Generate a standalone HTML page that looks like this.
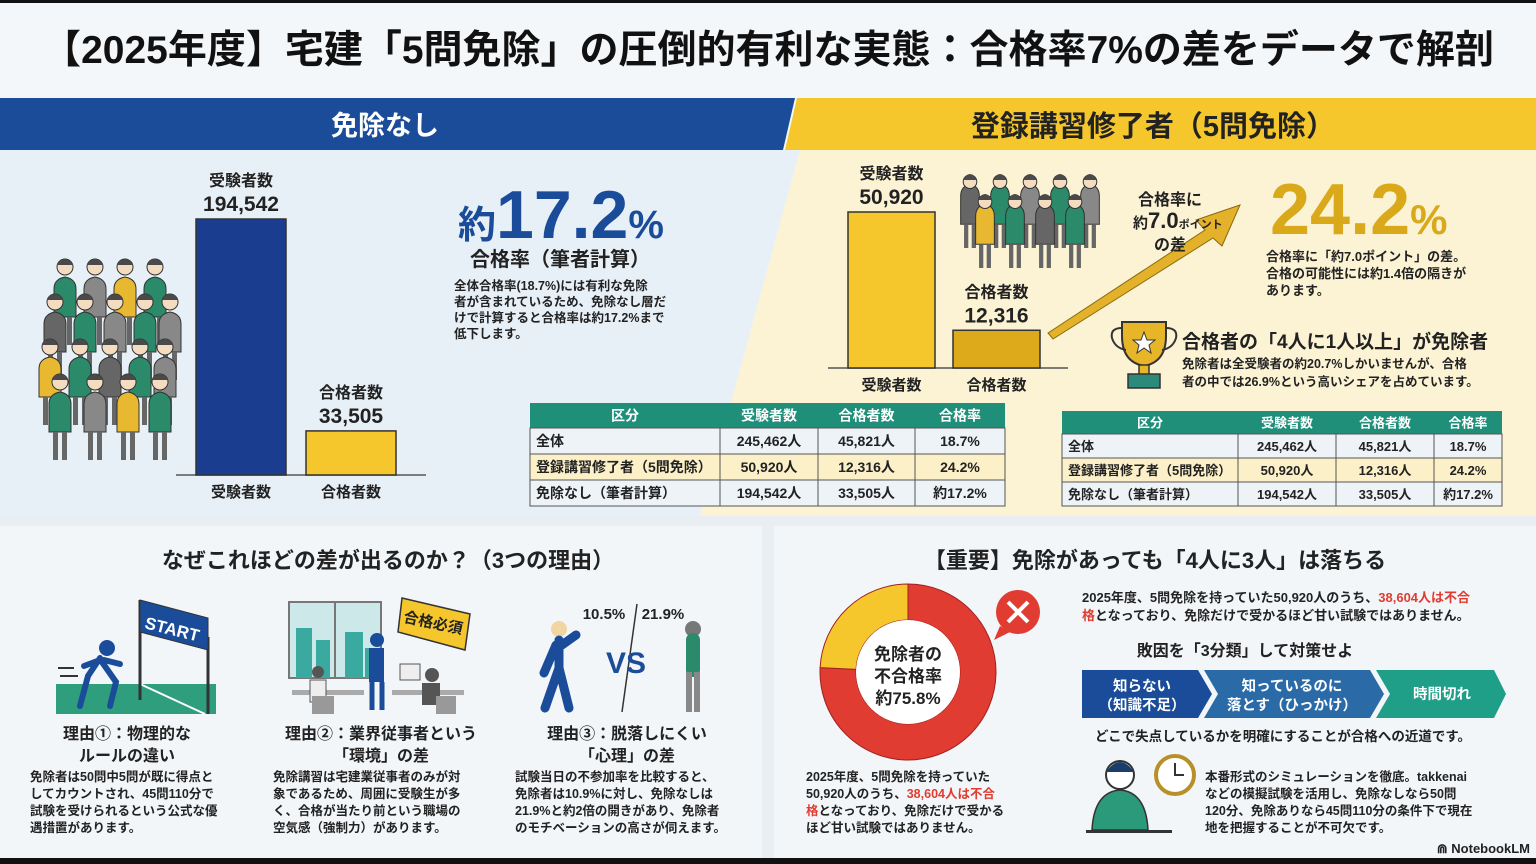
<!DOCTYPE html>
<html><head><meta charset="utf-8">
<style>
html,body{margin:0;padding:0;background:#fff;}
svg{display:block;}
text{font-family:"Liberation Sans","Noto Sans CJK JP",sans-serif;font-weight:bold;}
</style></head>
<body>
<svg id="root" width="1536" height="864" viewBox="0 0 1536 864" xmlns="http://www.w3.org/2000/svg">
<rect x="0" y="0" width="1536" height="864" fill="#f4f7fa"/>
<rect x="0" y="0" width="1536" height="3" fill="#111"/>
<text x="768" y="63" font-size="39" text-anchor="middle" fill="#111">【2025年度】宅建「5問免除」の圧倒的有利な実態：合格率7%の差をデータで解剖</text>

<!-- top panels -->
<polygon points="0,150 800,150 700,516 0,516" fill="#e8f0f7"/>
<polygon points="800,150 1536,150 1536,516 700,516" fill="#fbf3d4"/>
<polygon points="0,98 795,98 783,150 0,150" fill="#1a4c9a"/>
<text x="385" y="135" font-size="27" text-anchor="middle" fill="#fff">免除なし</text>
<polygon points="797,98 1536,98 1536,150 785,150" fill="#f5c72c"/>
<text x="1153" y="136" font-size="29" text-anchor="middle" fill="#222">登録講習修了者（5問免除）</text>

<g id="crowdL"></g>
<g id="crowdR"></g>
<g id="barsL"></g>
<g id="barsR"></g>

<text x="458" y="238" fill="#1a4c9a"><tspan font-size="38">約</tspan><tspan font-size="68">17.2</tspan><tspan font-size="40">%</tspan></text>
<text x="560" y="266" font-size="20" text-anchor="middle" fill="#222">合格率（筆者計算）</text>
<g font-size="12.5" fill="#222">
<text x="454" y="290">全体合格率(18.7%)には有利な免除</text>
<text x="454" y="306">者が含まれているため、免除なし層だ</text>
<text x="454" y="322">けで計算すると合格率は約17.2%まで</text>
<text x="454" y="338">低下します。</text>
</g>

<!-- arrow -->
<polygon points="1048,333 1205,230 1196,220 1240,205 1222,246 1213,238 1053,339" fill="#e3b22a" stroke="#8a6a10" stroke-width="1"/>
<g fill="#222">
<text x="1170" y="205" font-size="16" text-anchor="middle">合格率に</text>
<text x="1133" y="228"><tspan font-size="15">約</tspan><tspan font-size="22">7.0</tspan><tspan font-size="11">ポイント</tspan></text>
<text x="1170" y="250" font-size="16" text-anchor="middle">の差</text>
</g>
<text x="1270" y="234" fill="#d9a91a"><tspan font-size="72">24.2</tspan><tspan font-size="42">%</tspan></text>
<g font-size="13" fill="#222">
<text x="1266" y="261">合格率に「約7.0ポイント」の差。</text>
<text x="1266" y="278">合格の可能性には約1.4倍の隔きが</text>
<text x="1266" y="295">あります。</text>
</g>
<g>
<path d="M1122,322 h44 v14 q0,26 -22,30 q-22,-4 -22,-30 z" fill="#e7b628" stroke="#333" stroke-width="2"/>
<path d="M1122,328 q-12,0 -10,10 q3,10 14,12 M1166,328 q12,0 10,10 q-3,10 -14,12" fill="none" stroke="#333" stroke-width="2"/>
<rect x="1139" y="365" width="10" height="10" fill="#e7b628" stroke="#333" stroke-width="1.5"/>
<rect x="1128" y="374" width="32" height="14" fill="#2b8a7a" stroke="#333" stroke-width="1.5"/>
<polygon points="1144,332 1147,340 1155,340 1149,345 1151,353 1144,348 1137,353 1139,345 1133,340 1141,340" fill="#fff" stroke="#333"/>
</g>
<text x="1182" y="348" font-size="19" fill="#222">合格者の「4人に1人以上」が免除者</text>
<g font-size="12.5" fill="#222">
<text x="1182" y="368">免除者は全受験者の約20.7%しかいませんが、合格</text>
<text x="1182" y="386">者の中では26.9%という高いシェアを占めています。</text>
</g>

<g id="tableL"></g>
<g id="tableR"></g>

<!-- bottom panels -->
<rect x="0" y="516" width="1536" height="348" fill="#e9eef3"/>
<rect x="0" y="526" width="762" height="332" fill="#f3f6f9"/>
<rect x="774" y="526" width="762" height="332" fill="#f3f6f9"/>
<rect x="0" y="858" width="1536" height="6" fill="#111"/>
<text x="388" y="568" font-size="22" text-anchor="middle" fill="#222">なぜこれほどの差が出るのか？（3つの理由）</text>

<!-- reason 1 illustration -->
<g>
<rect x="56" y="684" width="160" height="30" fill="#2e9e7c"/>
<line x1="140" y1="684" x2="205" y2="714" stroke="#fff" stroke-width="2"/>
<line x1="140" y1="600" x2="140" y2="700" stroke="#333" stroke-width="3"/>
<line x1="208" y1="637" x2="208" y2="714" stroke="#333" stroke-width="3"/>
<polygon points="140,600 208,618 208,650 140,632" fill="#1a4c9a" stroke="#333"/>
<text x="172" y="635" font-size="17" fill="#fff" text-anchor="middle" transform="rotate(14 172 630)">START</text>
<circle cx="107" cy="648" r="8" fill="#1a4c9a"/>
<path d="M100,658 l-12,18 l-8,30 M102,662 l14,20 l-6,24 M100,660 l-16,6 M104,660 l16,4" stroke="#1a4c9a" stroke-width="6" fill="none" stroke-linecap="round"/>
<line x1="58" y1="668" x2="74" y2="668" stroke="#333" stroke-width="2"/><line x1="60" y1="676" x2="78" y2="676" stroke="#333" stroke-width="2"/>
</g>
<!-- reason 2 illustration -->
<g>
<rect x="289" y="602" width="92" height="76" fill="#cde8e8" stroke="#777" stroke-width="2"/>
<rect x="296" y="628" width="16" height="50" fill="#3aa9a0"/><rect x="316" y="640" width="14" height="38" fill="#3aa9a0"/><rect x="345" y="632" width="18" height="46" fill="#3aa9a0"/><rect x="365" y="648" width="12" height="30" fill="#3aa9a0"/>
<line x1="335" y1="602" x2="335" y2="678" stroke="#777" stroke-width="2"/>
<polygon points="402,598 470,614 465,650 398,632" fill="#f5c72c" stroke="#333" stroke-width="1.5"/>
<text x="433" y="628" font-size="15" fill="#222" text-anchor="middle" transform="rotate(12 433 624)">合格必須</text>
<rect x="292" y="690" width="72" height="5" fill="#aaa"/><rect x="392" y="690" width="72" height="5" fill="#aaa"/>
<circle cx="377" cy="640" r="7" fill="#1a4c9a"/><rect x="369" y="648" width="15" height="34" fill="#1a4c9a"/><path d="M372,682 v28 M382,682 v28" stroke="#1a4c9a" stroke-width="5"/>
<circle cx="318" cy="672" r="6" fill="#555"/><rect x="310" y="680" width="16" height="22" fill="#eee" stroke="#555"/><rect x="312" y="696" width="22" height="18" fill="#999"/>
<circle cx="432" cy="675" r="7" fill="#555"/><rect x="422" y="683" width="18" height="22" fill="#555"/><rect x="436" y="696" width="20" height="18" fill="#999"/>
<rect x="400" y="664" width="20" height="16" fill="#eee" stroke="#555"/>
</g>
<!-- reason 3 illustration -->
<g>
<text x="604" y="619" font-size="15" fill="#222" text-anchor="middle">10.5%</text>
<text x="663" y="619" font-size="15" fill="#222" text-anchor="middle">21.9%</text>
<line x1="637" y1="604" x2="622" y2="712" stroke="#333" stroke-width="1.5"/>
<text x="626" y="673" font-size="30" fill="#1a4c9a" text-anchor="middle">VS</text>
<circle cx="559" cy="629" r="8" fill="#f2d5a0"/>
<path d="M559,640 v30 M559,668 l-14,40 M559,668 l10,40 M556,645 l-12,28 M562,645 l14,-10" stroke="#1a4c9a" stroke-width="9" fill="none" stroke-linecap="round"/>
<circle cx="693" cy="629" r="8" fill="#777"/>
<path d="M693,640 v30" stroke="#2a8a6a" stroke-width="14" stroke-linecap="round"/>
<path d="M689,672 v40 M697,672 v40" stroke="#888" stroke-width="6"/>
</g>
<g fill="#222" text-anchor="middle" font-size="16">
<text x="127" y="739">理由①：物理的な</text><text x="127" y="761">ルールの違い</text>
<text x="381" y="739">理由②：業界従事者という</text><text x="381" y="761">「環境」の差</text>
<text x="627" y="739">理由③：脱落しにくい</text><text x="627" y="761">「心理」の差</text>
</g>
<g fill="#222" font-size="12.5">
<text x="30" y="781">免除者は50問中5問が既に得点と</text>
<text x="30" y="798">してカウントされ、45問110分で</text>
<text x="30" y="815">試験を受けられるという公式な優</text>
<text x="30" y="832">遇措置があります。</text>
<text x="273" y="781">免除講習は宅建業従事者のみが対</text>
<text x="273" y="798">象であるため、周囲に受験生が多</text>
<text x="273" y="815">く、合格が当たり前という職場の</text>
<text x="273" y="832">空気感（強制力）があります。</text>
<text x="515" y="781">試験当日の不参加率を比較すると、</text>
<text x="515" y="798">免除者は10.9%に対し、免除なしは</text>
<text x="515" y="815">21.9%と約2倍の開きがあり、免除者</text>
<text x="515" y="832">のモチベーションの高さが伺えます。</text>
</g>

<text x="1155" y="568" font-size="22" text-anchor="middle" fill="#222">【重要】免除があっても「4人に3人」は落ちる</text>
<g id="donut"></g>
<g fill="#222" text-anchor="middle" font-size="17">
<text x="908" y="660">免除者の</text><text x="908" y="682">不合格率</text><text x="908" y="704">約75.8%</text>
</g>
<g>
<circle cx="1018" cy="612" r="22" fill="#e03c31"/><polygon points="1000,626 994,640 1010,632" fill="#e03c31"/>
<path d="M1008,602 l20,20 M1028,602 l-20,20" stroke="#fff" stroke-width="4"/>
</g>
<g fill="#222" font-size="12.5">
<text x="806" y="781">2025年度、5問免除を持っていた</text>
<text x="806" y="798">50,920人のうち、<tspan fill="#e03c31">38,604人は不合</tspan></text>
<text x="806" y="815"><tspan fill="#e03c31">格</tspan>となっており、免除だけで受かる</text>
<text x="806" y="832">ほど甘い試験ではありません。</text>
</g>
<g fill="#222" font-size="13">
<text x="1082" y="602">2025年度、5問免除を持っていた50,920人のうち、<tspan fill="#e03c31">38,604人は不合</tspan></text>
<text x="1082" y="620"><tspan fill="#e03c31">格</tspan>となっており、免除だけで受かるほど甘い試験ではありません。</text>
</g>
<text x="1245" y="656" font-size="16" text-anchor="middle" fill="#222">敗因を「3分類」して対策せよ</text>
<g>
<polygon points="1082,670 1198,670 1212,694 1198,718 1082,718" fill="#1a4c9a"/>
<polygon points="1204,670 1370,670 1384,694 1370,718 1204,718 1218,694" fill="#2a6aa6"/>
<polygon points="1376,670 1494,670 1506,694 1494,718 1376,718 1390,694" fill="#1f9e88"/>
<g fill="#fff" font-size="14.5" text-anchor="middle" font-weight="normal">
<text x="1142" y="691">知らない</text><text x="1142" y="710">（知識不足）</text>
<text x="1292" y="691">知っているのに</text><text x="1292" y="710">落とす（ひっかけ）</text>
<text x="1442" y="699">時間切れ</text>
</g>
</g>
<text x="1283" y="741" font-size="13.5" text-anchor="middle" fill="#222">どこで失点しているかを明確にすることが合格への近道です。</text>
<g>
<circle cx="1120" cy="775" r="14" fill="#fff" stroke="#333" stroke-width="2"/>
<path d="M1106,772 q14,-20 28,0" fill="#1a3d6a"/>
<path d="M1092,830 q2,-38 28,-40 q26,2 28,40 z" fill="#2a9a7a" stroke="#333" stroke-width="1.5"/>
<rect x="1086" y="830" width="86" height="3" fill="#333"/>
<circle cx="1175" cy="775" r="19" fill="#fff" stroke="#b8902a" stroke-width="4"/>
<path d="M1175,763 v12 h9" stroke="#333" stroke-width="2" fill="none"/>
</g>
<g fill="#222" font-size="12.5">
<text x="1205" y="781">本番形式のシミュレーションを徹底。takkenai</text>
<text x="1205" y="798">などの模擬試験を活用し、免除なしなら50問</text>
<text x="1205" y="815">120分、免除ありなら45問110分の条件下で現在</text>
<text x="1205" y="832">地を把握することが不可欠です。</text>
</g>
<text x="1530" y="853" font-size="13" text-anchor="end" fill="#222" font-weight="normal">⋒ NotebookLM</text>
</svg>

<script>
const NS = "http://www.w3.org/2000/svg";
// chart data
const barCategories = ["受験者数", "合格者数"];
const noExemptValues = [194542, 33505];
const exemptValues = [50920, 12316];
const tableHeaders = ["区分", "受験者数", "合格者数", "合格率"];
const tableGroups = ["全体", "登録講習修了者（5問免除）", "免除なし（筆者計算）"];
const tableExaminees = ["245,462人", "50,920人", "194,542人"];
const tablePassers = ["45,821人", "12,316人", "33,505人"];
const tableRates = ["18.7%", "24.2%", "約17.2%"];
const donutLabels = ["不合格", "合格"];
const donutValues = [75.8, 24.2];

function mk(tag, attrs, parent, txt) {
  const e = document.createElementNS(NS, tag);
  for (const k in attrs) e.setAttribute(k, attrs[k]);
  if (txt !== undefined) e.textContent = txt;
  parent.appendChild(e);
  return e;
}
function fmt(v) { return v.toLocaleString("en-US"); }

function drawBars(gid, values, o) {
  const g = document.getElementById(gid);
  const y = v => o.base - v / o.max * o.h;
  mk("line", {x1: o.x0 - 20, y1: o.base, x2: o.x0 + 2 * o.step + 10, y2: o.base, stroke: "#555", "stroke-width": 1.5}, g);
  values.forEach((v, i) => {
    const x = o.x0 + i * o.step;
    const r = mk("rect", {x: x, y: y(v), width: o.w, height: o.base - y(v), fill: o.colors[i], stroke: "#333", "stroke-width": 1.5}, g);
    
    
    const cx = x + o.w / 2;
    const t1 = mk("text", {x: cx, y: y(v) - 33, "font-size": 16, "text-anchor": "middle", fill: "#222"}, g, barCategories[i]);
    
    
    const t2 = mk("text", {x: cx, y: y(v) - 8, "font-size": 21, "text-anchor": "middle", fill: "#222"}, g, fmt(v));
    
    
    const t3 = mk("text", {x: cx, y: o.base + 22, "font-size": 15, "text-anchor": "middle", fill: "#222"}, g, barCategories[i]);
    
    
  });
}
drawBars("barsL", noExemptValues, {x0: 196, step: 110, w: 90, base: 475, h: 256, max: 194542, colors: ["#1a3d8f", "#f5c72c"]});
drawBars("barsR", exemptValues, {x0: 848, step: 105, w: 87, base: 368, h: 156, max: 50920, colors: ["#f5c72c", "#dcaa1a"]});

function drawTable(gid, x, y, cols, rowH, headH, fs) {
  const g = document.getElementById(gid);
  const total = cols.reduce((a, b) => a + b, 0);
  mk("rect", {x: x, y: y, width: total, height: headH, fill: "#1f8f7a"}, g);
  let cx = x;
  tableHeaders.forEach((h, i) => {
    const t = mk("text", {x: cx + cols[i] / 2, y: y + headH / 2 + 5, "font-size": fs, "text-anchor": "middle", fill: "#fff", "font-weight": "normal"}, g, h);
    
    
    cx += cols[i];
  });
  tableGroups.forEach((grp, r) => {
    const ry = y + headH + r * rowH;
    mk("rect", {x: x, y: ry, width: total, height: rowH, fill: r === 1 ? "#fcf0c8" : "#eef3f8", stroke: "#555", "stroke-width": 1}, g);
    const vals = [grp, tableExaminees[r], tablePassers[r], tableRates[r]];
    let cx2 = x;
    vals.forEach((v, i) => {
      if (i > 0) mk("line", {x1: cx2, y1: ry, x2: cx2, y2: ry + rowH, stroke: "#555"}, g);
      const t = mk("text", {x: i === 0 ? cx2 + 6 : cx2 + cols[i] / 2, y: ry + rowH / 2 + 5, "font-size": fs, "text-anchor": i === 0 ? "start" : "middle", fill: "#222"}, g, v);
      
      
      cx2 += cols[i];
    });
  });
}
drawTable("tableL", 530, 403, [190, 98, 97, 90], 26, 25, 14);
drawTable("tableR", 1062, 411, [176, 98, 98, 68], 24, 23, 13);

// donut
(function () {
  const g = document.getElementById("donut");
  const cx = 908, cy = 672, R = 88, r = 52;
  const tot = donutValues.reduce((a, b) => a + b, 0);
  let a0 = 0;
  const colors = ["#e03c31", "#f5c72c"];
  donutValues.forEach((v, i) => {
    const a1 = a0 + v / tot * Math.PI * 2;
    const p = (ang, rad) => [cx + rad * Math.sin(ang), cy - rad * Math.cos(ang)];
    const large = (a1 - a0) > Math.PI ? 1 : 0;
    const [x1, y1] = p(a0, R), [x2, y2] = p(a1, R), [x3, y3] = p(a1, r), [x4, y4] = p(a0, r);
    const d = `M${x1},${y1} A${R},${R} 0 ${large} 1 ${x2},${y2} L${x3},${y3} A${r},${r} 0 ${large} 0 ${x4},${y4} Z`;
    const s = mk("path", {d: d, fill: colors[i], stroke: "#a02020", "stroke-width": 1}, g);
    
    
    a0 = a1;
  });
  const c = mk("circle", {cx: cx, cy: cy, r: r, fill: "#fff"}, g);
  
  
})();

// crowd illustrations (decorative)
function person(g, x, y, s, col) {
  mk("path", {d: `M${x - 11 * s},${y + 52 * s} v-28 q0,-10 ${11 * s},-12 q${11 * s},2 ${11 * s},12 v28 z`, fill: col, stroke: "#333", "stroke-width": 1}, g);
  mk("rect", {x: x - 7 * s, y: y + 52 * s, width: 5 * s, height: 28 * s, fill: "#666"}, g);
  mk("rect", {x: x + 2 * s, y: y + 52 * s, width: 5 * s, height: 28 * s, fill: "#666"}, g);
  mk("circle", {cx: x, cy: y + 2 * s, r: 8 * s, fill: "#f3dcc0", stroke: "#333", "stroke-width": 1}, g);
  mk("path", {d: `M${x - 8 * s},${y} q${8 * s},-12 ${16 * s},0`, fill: "#4a4a4a"}, g);
}
(function () {
  const gl = document.getElementById("crowdL");
  const cols = ["#2a8a6a", "#888", "#e8b830", "#2a8a6a", "#666", "#2a8a6a", "#888"];
  const rowsL = [[265, [65, 95, 125, 155]], [300, [55, 85, 115, 145, 170]], [345, [50, 80, 110, 140, 165]], [380, [60, 95, 128, 160]]];
  let k = 0;
  rowsL.forEach(([yy, xs]) => xs.forEach(xx => { person(gl, xx, yy, 1, cols[k++ % cols.length]); }));
  const gr = document.getElementById("crowdR");
  const rowsR = [[180, [970, 1000, 1030, 1060, 1090]], [200, [985, 1015, 1045, 1075]]];
  rowsR.forEach(([yy, xs]) => xs.forEach(xx => { person(gr, xx, yy, 0.85, cols[k++ % cols.length]); }));
})();
</script>
</body></html>
